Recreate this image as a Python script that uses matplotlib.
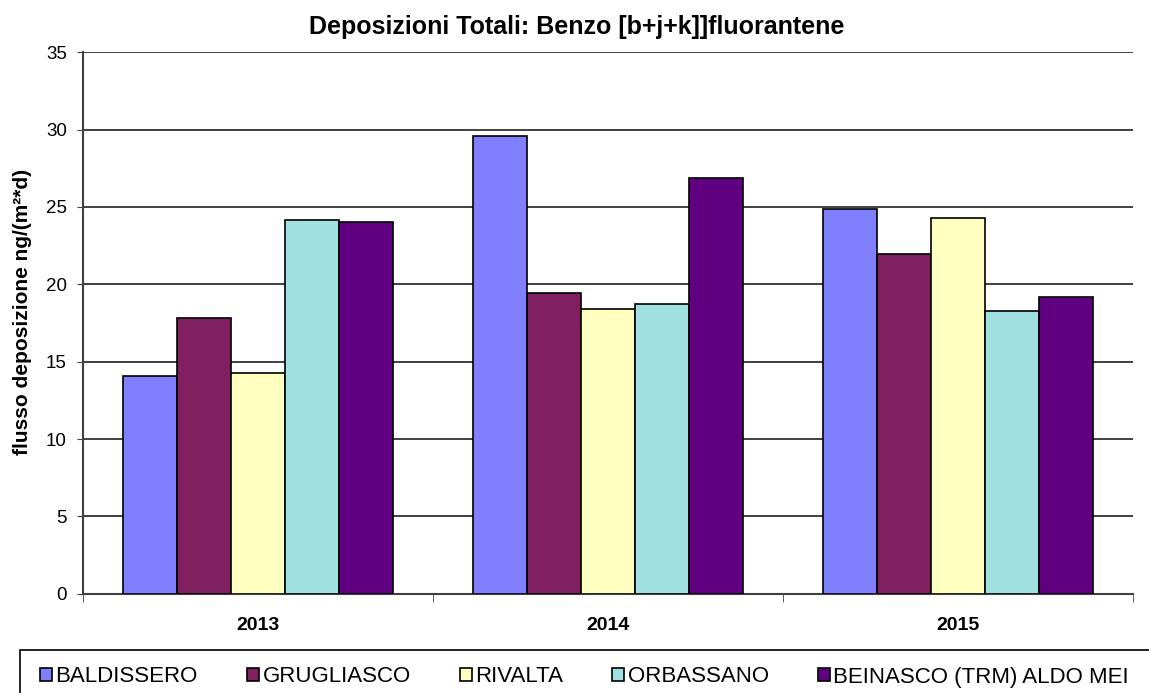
import numpy as np
import matplotlib.pyplot as plt
from matplotlib.patches import Rectangle

plt.rcParams['font.family'] = ['Liberation Sans', 'DejaVu Sans']

anni = ["2013", "2014", "2015"]
stazioni = ["BALDISSERO", "GRUGLIASCO", "RIVALTA", "ORBASSANO", "BEINASCO (TRM) ALDO MEI"]
colori = ["#8080FF", "#802060", "#FFFFC0", "#A0E0E0", "#600080"]

baldissero = [14.1, 29.6, 24.85]
grugliasco = [17.8, 19.45, 21.95]
rivalta = [14.3, 18.4, 24.3]
orbassano = [24.15, 18.7, 18.25]
beinasco = [24.0, 26.9, 19.2]
valori = [baldissero, grugliasco, rivalta, orbassano, beinasco]

fig = plt.figure(figsize=(11.49, 6.93), dpi=100)
ax = fig.add_axes([0.0722, 0.1433, 0.9138, 0.7812])

x = np.arange(len(anni))
w = 0.77 / len(stazioni)
for i, (nome, serie) in enumerate(zip(stazioni, valori)):
    ax.bar(x - 0.385 + w * (i + 0.5), serie, w, color=colori[i],
           edgecolor="black", linewidth=1.2, label=nome, zorder=3)

ax.set_xlim(-0.5, 2.5)
ax.set_ylim(0, 35)
ax.set_yticks(range(0, 36, 5))
ax.set_xticks(x)
ax.set_xticklabels(anni, fontweight="bold", fontsize=14)
ax.set_xticks([-0.5, 0.5, 1.5, 2.5], minor=True)
ax.tick_params(axis="x", which="major", length=0, pad=17)
ax.tick_params(axis="x", which="minor", length=6, color="#404040")
ax.tick_params(axis="y", length=4.5, labelsize=13.5, pad=7, color="#404040")
ax.yaxis.grid(True, color="#202020", linewidth=1.2, zorder=0)
for s in ["top", "right"]:
    ax.spines[s].set_visible(False)
for s in ["left", "bottom"]:
    ax.spines[s].set_color("#404040")
    ax.spines[s].set_linewidth(1.5)

ax.set_ylabel("flusso deposizione ng/(m²*d)", fontweight="bold", fontsize=15)
ax.yaxis.set_label_coords(-0.049, 0.52)
fig.text(0.502, 1 - 27 / 693, "Deposizioni Totali: Benzo [b+j+k]]fluorantene",
         fontweight="bold", fontsize=18, ha="center", va="center")

# riquadro legenda
fig.patches.append(Rectangle((20 / 1149, -0.02), 1.0, (693 - 650) / 693 + 0.02,
                             transform=fig.transFigure, fill=False,
                             edgecolor="black", linewidth=1.2))
leg = fig.legend(loc="center left", bbox_to_anchor=(40 / 1149, 1 - 677 / 693),
                 ncol=5, fontsize=16, handlelength=0.55, handleheight=0.55,
                 handletextpad=0.15, columnspacing=2.2, frameon=False,
                 borderaxespad=0, borderpad=0)

fig.savefig("out.png", dpi=100)
